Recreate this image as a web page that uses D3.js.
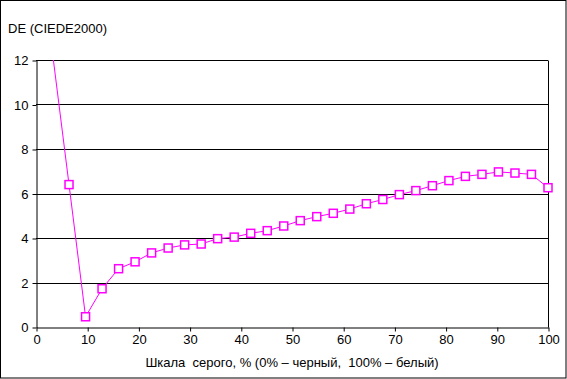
<!DOCTYPE html>
<html><head><meta charset="utf-8">
<script src="https://cdn.jsdelivr.net/npm/d3@7"></script>
<style>body{margin:0;background:#fff}svg{display:block;font-family:"Liberation Sans",Arial,sans-serif}</style>
</head><body><div id="c"></div>
<script>
const xPercent = [3.23,6.45,9.68,12.9,16.13,19.35,22.58,25.81,29.03,32.26,35.48,38.71,41.94,45.16,48.39,51.61,54.84,58.06,61.29,64.52,67.74,70.97,74.19,77.42,80.65,83.87,87.1,90.32,93.55,96.77,100];
const deValues = [12.3,6.4,0.46,1.72,2.62,2.93,3.33,3.55,3.69,3.73,3.97,4.04,4.21,4.33,4.54,4.78,4.96,5.11,5.3,5.54,5.73,5.95,6.13,6.35,6.58,6.77,6.86,6.97,6.92,6.86,6.26];
const xTicks = [0,10,20,30,40,50,60,70,80,90,100];
const yTicks = [0,2,4,6,8,10,12];
const yTitle = "DE (CIEDE2000)";
const xTitle = "Шкала  серого, % (0% – черный,  100% – белый)";

const W=567,H=379;
const svg=d3.select("#c").append("svg").attr("width",W).attr("height",H);
svg.append("rect").attr("x",0.5).attr("y",0.5).attr("width",W-1.5).attr("height",H-1.5).attr("fill","#fff").attr("stroke","#000");
const L=36,R=548,T=60,B=327;
const x=d3.scaleLinear().domain([0,100]).range([L,R]);
const y=d3.scaleLinear().domain([0,12]).range([B,T]);

svg.append("g").selectAll("line").data(yTicks.filter(d=>d>0)).join("line")
 .attr("x1",L).attr("x2",R).attr("y1",d=>Math.round(y(d))+0.5).attr("y2",d=>Math.round(y(d))+0.5)
 .attr("stroke","#000").attr("stroke-width",1);
svg.append("line").attr("x1",R+0.5).attr("x2",R+0.5).attr("y1",T+0.5).attr("y2",B+0.5).attr("stroke","#000");

const xa=svg.append("g").attr("transform",`translate(0.5,${B+0.5})`).call(d3.axisBottom(x).tickValues(xTicks).tickSize(4).tickSizeOuter(0).tickPadding(3));
const ya=svg.append("g").attr("transform",`translate(${L+0.5},0.5)`).call(d3.axisLeft(y).tickValues(yTicks).tickSize(4).tickSizeOuter(0).tickPadding(4));
[xa,ya].forEach(a=>{a.selectAll("text").attr("font-size",13).attr("fill","#000").attr("font-family","Liberation Sans, Arial, sans-serif");a.selectAll("line,path").attr("stroke","#000");});

svg.append("defs").append("clipPath").attr("id","clip").append("rect").attr("x",L).attr("y",T).attr("width",R-L+1).attr("height",B-T+1);
const data=xPercent.map((v,i)=>[v,deValues[i]]);
const g=svg.append("g").attr("clip-path","url(#clip)");
g.append("path").datum(data).attr("d",d3.line().x(d=>x(d[0])).y(d=>y(d[1])))
 .attr("fill","none").attr("stroke","#ff00ff").attr("stroke-width",1);
const inRange=data.filter(d=>d[1]<=12);
svg.append("g").selectAll("rect").data(inRange).join("rect")
 .attr("x",d=>x(d[0])-4).attr("y",d=>y(d[1])-4).attr("width",8).attr("height",8)
 .attr("fill","#fff").attr("stroke","#ff00ff").attr("stroke-width",1.5);

svg.append("text").attr("x",8).attr("y",33).attr("font-size",13).text(yTitle);
svg.append("text").attr("x",(L+R)/2).attr("y",367).attr("text-anchor","middle").attr("font-size",13).style("white-space","pre").text(xTitle);
</script></body></html>
